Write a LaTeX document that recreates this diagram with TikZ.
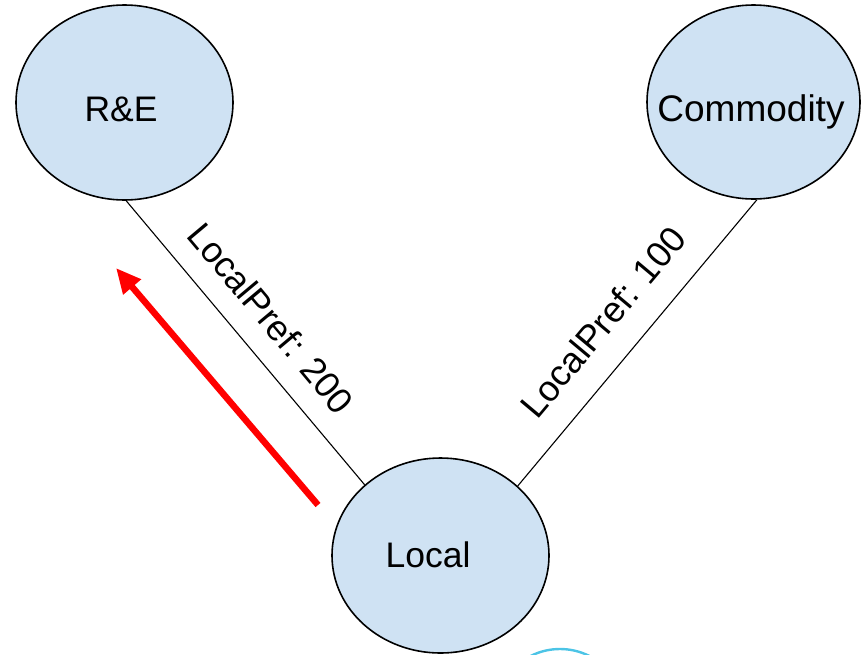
\documentclass[tikz,border=0pt]{standalone}
\usepackage{fontspec}
\setmainfont{Liberation Sans}
\usetikzlibrary{arrows.meta,shapes.geometric}
\definecolor{nodeblue}{HTML}{CFE2F3}
\definecolor{markcyan}{HTML}{4CC4E6}
\tikzset{
  router/.style={ellipse, draw=black, line width=1.6pt, fill=nodeblue, inner sep=0pt},
  rtext/.style={font=\fontsize{35.5}{40}\selectfont, inner sep=0pt, anchor=base},
  link/.style={draw=black, line width=1.1pt},
  prefl/.style={font=\fontsize{36}{40}\selectfont, inner sep=0pt},
  pathmark/.style={draw=red, line width=6.5pt, -{Triangle[length=25pt,width=22pt]}}
}
\begin{document}
\begin{tikzpicture}[x=1pt,y=-1pt]
  \useasboundingbox (0,0) rectangle (861,654);

  % routers
  \node[router, minimum width=217pt, minimum height=195pt] (re)    at (124.5,102.5) {};
  \node[router, minimum width=213pt, minimum height=194pt] (com)   at (753.5,102)   {};
  \node[router, minimum width=217pt, minimum height=195pt] (local) at (440.5,555.5) {};

  \node[rtext] (re-t)    at (121,121)   {R\&E};
  \node[rtext, font=\fontsize{37}{42}\selectfont] (com-t) at (751,121) {Commodity};
  \node[rtext] (local-t) at (428,567)   {Local};

  % links
  \draw[link] (re.-89)  -- (local.137);
  \draw[link] (com.-88) -- (local.42);

  % link labels
  \node[prefl, rotate=-50] (lp200) at (271,318) {LocalPref: 200};
  \node[prefl, rotate=50]  (lp100) at (603,322) {LocalPref: 100};

  % preferred path
  \coordinate (pstart) at (318,505);
  \coordinate (pend)   at (116,268);
  \draw[pathmark] (pstart) -- (pend);

  % partial marker at the lower edge
  \begin{scope}
    \clip (0,0) rectangle (861,654);
    \draw[markcyan, line width=2.4pt] (560,714) circle[radius=65];
  \end{scope}
\end{tikzpicture}
\end{document}
